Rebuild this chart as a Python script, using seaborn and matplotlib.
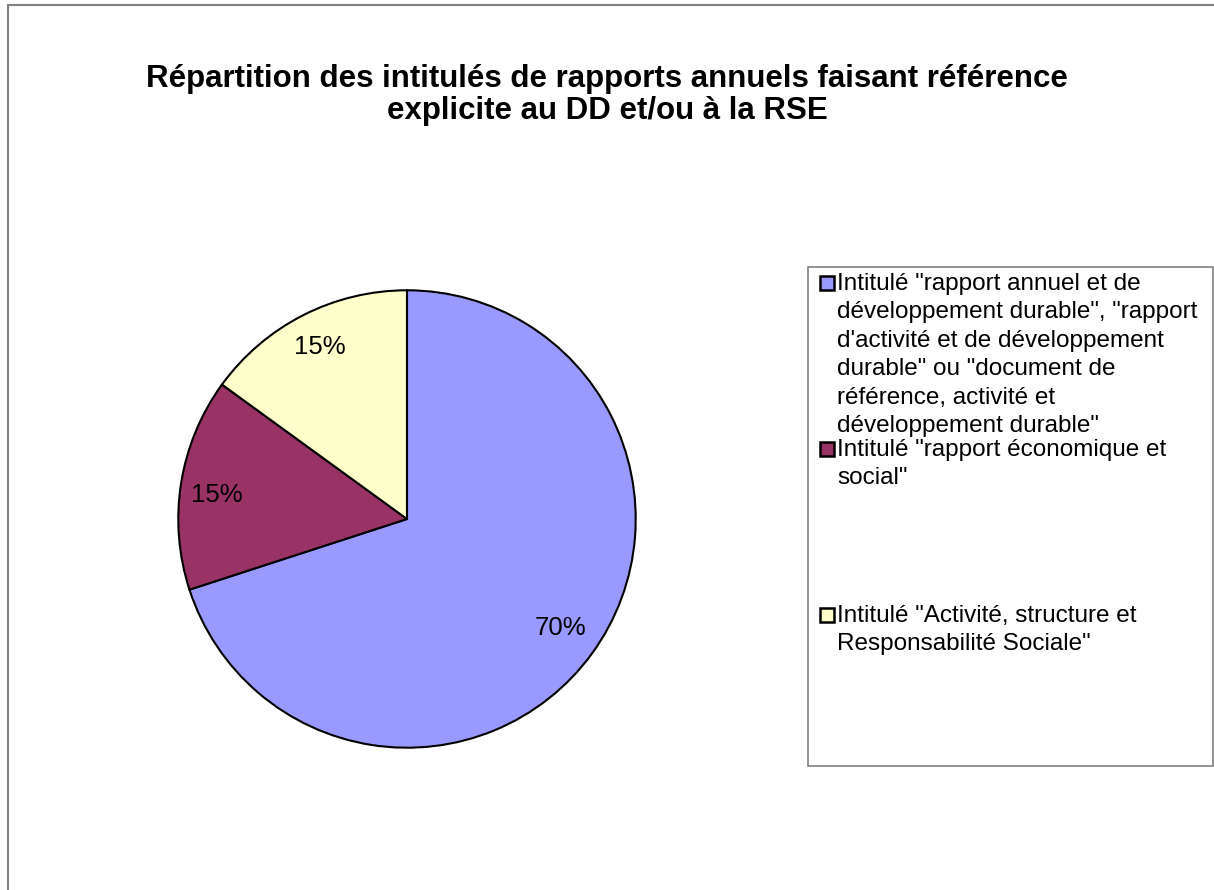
import numpy as np
import pandas as pd
import seaborn as sns
import matplotlib.pyplot as plt
from matplotlib.patches import Rectangle

sns.set_theme(style="white")
plt.rcParams['font.family'] = ['Liberation Sans', 'DejaVu Sans']
plt.rcParams['text.color'] = 'black'

# data
labels = ['Intitulé "rapport annuel et de\ndéveloppement durable", "rapport\nd\'activité et de développement\ndurable" ou "document de\nréférence, activité et\ndéveloppement durable"',
          'Intitulé "rapport économique et\nsocial"',
          'Intitulé "Activité, structure et\nResponsabilité Sociale"']
values = [70, 15, 15]
colors = ['#9999FF', '#993366', '#FFFFCC']
title = "Répartition des intitulés de rapports annuels faisant référence\nexplicite au DD et/ou à la RSE"

W, H = 1214, 890
fig = plt.figure(figsize=(W / 100, H / 100), dpi=100)
fig.patch.set_facecolor('white')

# outer chart border (only left and top visible)
fig.patches.append(Rectangle((8 / W, -0.1), 1.2, 1 - 5 / H + 0.1, transform=fig.transFigure,
                             fill=False, edgecolor='#808080', lw=1.5))

fig.text(607 / W, 1 - 95 / H, title, ha='center', va='center', fontsize=22.5,
         fontweight='bold', linespacing=1.1)

# pie
cx, cy, r = 407, 519, 231
ax = fig.add_axes([(cx - r) / W, 1 - (cy + r) / H, 2 * r / W, 2 * r / H])
wedges, texts, autotexts = ax.pie(values, colors=colors, startangle=90, counterclock=False,
                                  radius=1, autopct='%1.0f%%', pctdistance=0.85,
                                  wedgeprops=dict(edgecolor='black', linewidth=1.5),
                                  textprops=dict(fontsize=18.5, color='black'))
# excel label placement (in pie radius units)
label_pos = [(0.673, -0.476), (-0.831, 0.104), (-0.381, 0.753)]
for t, p in zip(autotexts, label_pos):
    t.set_position(p)
ax.set_xlim(-1.01, 1.01)
ax.set_ylim(-1.01, 1.01)
ax.axis('off')

# legend box
lx0, ly0, lx1, ly1 = 808, 267, 1213, 766
fig.patches.append(Rectangle((lx0 / W, 1 - ly1 / H), (lx1 - lx0) / W, (ly1 - ly0) / H,
                             transform=fig.transFigure, fill=False, edgecolor='#808080', lw=1.2))
entry_y = [283, 449, 615]
for lab, col, y in zip(labels, colors, entry_y):
    fig.patches.append(Rectangle((820 / W, 1 - (y + 7) / H), 14 / W, 14 / H, transform=fig.transFigure,
                                 facecolor=col, edgecolor='black', lw=1.8))
    fig.text(837 / W, 1 - (y - 10) / H, lab, ha='left', va='top', fontsize=17.5, linespacing=1.38)

fig.savefig('out.png', dpi=100, facecolor='white')
